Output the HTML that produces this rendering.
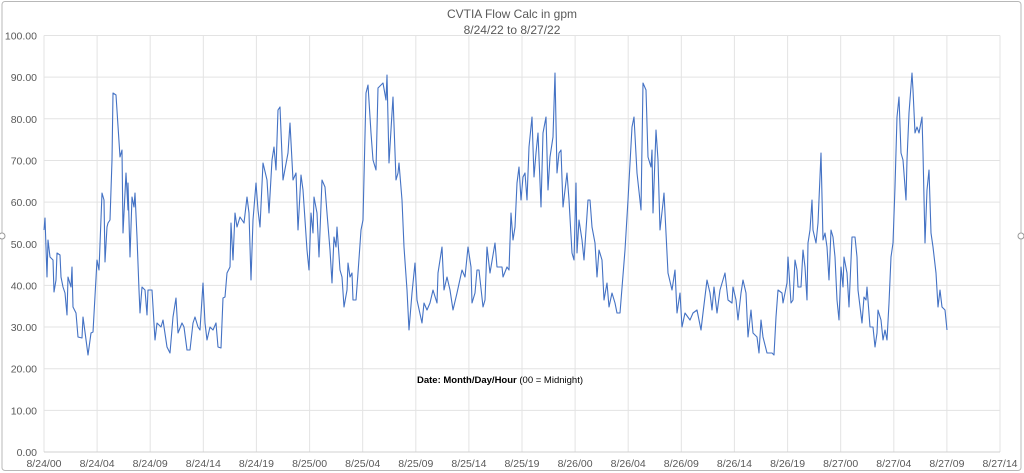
<!DOCTYPE html>
<html><head><meta charset="utf-8"><style>
html,body{margin:0;padding:0;background:#fff;}
svg{display:block;font-family:"Liberation Sans",sans-serif;}
</style></head><body>
<svg width="1024" height="473" viewBox="0 0 1024 473" xmlns="http://www.w3.org/2000/svg">
<rect x="0" y="0" width="1024" height="473" fill="#fff"/>
<rect x="2" y="1.5" width="1019" height="469" rx="3" fill="none" stroke="#b8b8b8" stroke-width="1"/>
<circle cx="2" cy="236" r="3" fill="#fff" stroke="#999"/>
<circle cx="1021" cy="236" r="3" fill="#fff" stroke="#999"/>
<g stroke="#e3e3e3" stroke-width="1">
<line x1="44" x2="1000" y1="410.35" y2="410.35"/>
<line x1="44" x2="1000" y1="368.7" y2="368.7"/>
<line x1="44" x2="1000" y1="327.05" y2="327.05"/>
<line x1="44" x2="1000" y1="285.4" y2="285.4"/>
<line x1="44" x2="1000" y1="243.75" y2="243.75"/>
<line x1="44" x2="1000" y1="202.1" y2="202.1"/>
<line x1="44" x2="1000" y1="160.45" y2="160.45"/>
<line x1="44" x2="1000" y1="118.8" y2="118.8"/>
<line x1="44" x2="1000" y1="77.15" y2="77.15"/>
<line x1="44" x2="1000" y1="35.5" y2="35.5"/>
<line x1="44" x2="44" y1="35.5" y2="452"/>
<line x1="97.1" x2="97.1" y1="35.5" y2="452"/>
<line x1="150.2" x2="150.2" y1="35.5" y2="452"/>
<line x1="203.3" x2="203.3" y1="35.5" y2="452"/>
<line x1="256.4" x2="256.4" y1="35.5" y2="452"/>
<line x1="309.6" x2="309.6" y1="35.5" y2="452"/>
<line x1="362.7" x2="362.7" y1="35.5" y2="452"/>
<line x1="415.8" x2="415.8" y1="35.5" y2="452"/>
<line x1="468.9" x2="468.9" y1="35.5" y2="452"/>
<line x1="522" x2="522" y1="35.5" y2="452"/>
<line x1="575.1" x2="575.1" y1="35.5" y2="452"/>
<line x1="628.2" x2="628.2" y1="35.5" y2="452"/>
<line x1="681.3" x2="681.3" y1="35.5" y2="452"/>
<line x1="734.4" x2="734.4" y1="35.5" y2="452"/>
<line x1="787.6" x2="787.6" y1="35.5" y2="452"/>
<line x1="840.7" x2="840.7" y1="35.5" y2="452"/>
<line x1="893.8" x2="893.8" y1="35.5" y2="452"/>
<line x1="946.9" x2="946.9" y1="35.5" y2="452"/>
<line x1="1000" x2="1000" y1="35.5" y2="452"/>
<line x1="44" x2="1000" y1="452" y2="452" stroke="#d0d0d0"/>
</g>
<g font-size="10.5" fill="#595959" text-anchor="end">
<text x="37" y="456">0.00</text>
<text x="37" y="414.35">10.00</text>
<text x="37" y="372.7">20.00</text>
<text x="37" y="331.05">30.00</text>
<text x="37" y="289.4">40.00</text>
<text x="37" y="247.75">50.00</text>
<text x="37" y="206.1">60.00</text>
<text x="37" y="164.45">70.00</text>
<text x="37" y="122.8">80.00</text>
<text x="37" y="81.15">90.00</text>
<text x="37" y="39.5">100.00</text>
</g>
<g font-size="10.5" fill="#595959" text-anchor="middle">
<text x="44" y="467">8/24/00</text>
<text x="97.1" y="467">8/24/04</text>
<text x="150.2" y="467">8/24/09</text>
<text x="203.3" y="467">8/24/14</text>
<text x="256.4" y="467">8/24/19</text>
<text x="309.6" y="467">8/25/00</text>
<text x="362.7" y="467">8/25/04</text>
<text x="415.8" y="467">8/25/09</text>
<text x="468.9" y="467">8/25/14</text>
<text x="522" y="467">8/25/19</text>
<text x="575.1" y="467">8/26/00</text>
<text x="628.2" y="467">8/26/04</text>
<text x="681.3" y="467">8/26/09</text>
<text x="734.4" y="467">8/26/14</text>
<text x="787.6" y="467">8/26/19</text>
<text x="840.7" y="467">8/27/00</text>
<text x="893.8" y="467">8/27/04</text>
<text x="946.9" y="467">8/27/09</text>
<text x="1000" y="467">8/27/14</text>
</g>
<text x="512" y="18" font-size="12" fill="#595959" text-anchor="middle">CVTIA Flow Calc in gpm</text>
<text x="512" y="34" font-size="12" fill="#595959" text-anchor="middle">8/24/22 to 8/27/22</text>
<text x="500" y="383" font-size="9.5" fill="#000" text-anchor="middle"><tspan font-weight="bold">Date: Month/Day/Hour</tspan> (00 = Midnight)</text>
<polyline fill="none" stroke="#4472c4" stroke-width="1.1" stroke-linejoin="round" points="
44,230 45,218 47,277 48,240 50,257 53,260 54,292 56,280 57,253 60,255 61,277 63,287 65,293 67,315 68,277 71,287 72,267 73,307 76,313 78,337 82,338 83,317 85,332 88,355 91,333 93,332 97,260 99,270 102,193 104,200 105,262 107,227 108,223 110,220 112,160 113,93 116,95 120,157 122,150 123,233 126,173 128,210 128,183 130,257 132,197 134,207 135,193 137,237 139,290 140,313 142,287 145,290 147,315 148,290 152,290 155,340 157,323 161,327 163,320 167,347 170,353 173,317 176,298 178,333 182,323 184,327 187,350 190,350 193,323 195,317 198,327 200,330 203,283 205,323 207,340 210,327 213,330 216,323 218,347 221,348 223,298 225,297 227,273 230,267 231,223 233,260 235,213 237,227 240,217 244,223 247,197 249,213 251,280 253,220 256,183 258,210 260,227 263,163 267,180 269,213 272,160 274,147 276,170 278,110 280,107 283,180 288,153 290,123 293,180 296,173 298,230 301,175 303,190 307,250 309,270 311,213 313,233 314,197 317,213 319,257 322,180 325,187 327,213 330,250 332,283 334,237 336,247 337,227 340,270 342,277 344,307 347,290 348,263 350,277 352,273 353,300 356,300 358,273 361,230 363,220 366,93 368,85 371,133 373,160 376,170 378,88 383,83 386,100 387,75 389,163 392,113 393,97 396,180 398,173 399,163 402,200 404,247 407,290 409,330 412,293 415,263 417,300 422,323 424,303 427,310 430,303 433,290 437,303 438,273 442,247 444,290 447,277 450,290 453,310 457,293 462,270 465,277 468,247 471,267 472,303 475,293 477,270 479,270 483,307 485,300 487,247 490,273 495,243 497,267 502,267 503,277 507,267 509,270 511,213 513,240 515,227 517,183 519,167 521,200 523,177 525,173 527,200 529,147 532,117 534,177 536,153 538,133 541,207 543,133 546,117 548,190 550,157 553,137 555,73 557,173 559,153 561,150 563,207 567,173 569,200 572,253 574,260 576,183 577,253 579,220 582,240 584,260 588,200 590,200 592,227 595,243 597,277 599,250 602,260 604,300 607,283 609,307 612,293 615,303 617,313 620,313 625,250 628,200 632,127 634,117 637,173 641,210 643,83 646,90 648,157 651,167 652,150 653,213 656,130 658,160 660,230 663,203 664,193 666,233 668,273 672,290 675,270 677,313 680,293 682,327 685,313 690,320 693,313 697,310 701,330 703,313 707,280 710,293 712,310 714,287 717,313 720,290 725,273 728,300 732,303 733,287 736,300 738,320 741,293 743,280 746,293 748,337 751,310 753,333 757,337 759,353 761,320 763,337 767,353 772,353 774,355 776,317 778,290 782,293 783,303 787,283 788,257 791,303 793,300 795,260 797,270 798,287 801,287 803,250 805,267 807,300 808,243 810,230 812,200 813,230 816,243 818,223 821,153 823,240 825,233 827,247 829,280 831,230 833,237 835,257 837,300 839,320 841,267 843,287 844,257 847,273 849,307 852,237 855,237 857,257 858,290 862,323 864,297 866,300 867,287 870,327 873,327 875,347 877,333 878,310 881,320 883,340 885,330 887,340 889,303 891,257 893,243 895,187 897,117 899,97 901,153 903,160 906,200 907,160 909,113 912,73 913,90 915,133 917,127 919,133 922,117 923,153 925,243 927,190 929,170 931,233 933,247 936,273 938,307 940,290 942,307 945,310 947,330"/>
</svg>
</body></html>
